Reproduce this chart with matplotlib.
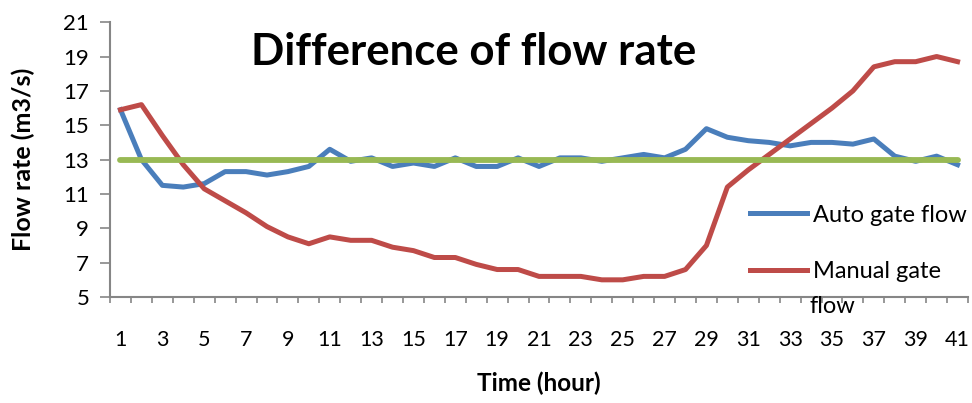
import numpy as np
import matplotlib.pyplot as plt

plt.rcParams['font.family'] = ['Lato', 'DejaVu Sans']

# == data ==
hours = list(range(1, 42))
autoFlow = [15.9, 13.0, 11.5, 11.4, 11.6, 12.3, 12.3, 12.1, 12.3, 12.6,
            13.6, 12.9, 13.1, 12.6, 12.8, 12.6, 13.1, 12.6, 12.6, 13.1,
            12.6, 13.1, 13.1, 12.9, 13.1, 13.3, 13.1, 13.6, 14.8, 14.3,
            14.1, 14.0, 13.8, 14.0, 14.0, 13.9, 14.2, 13.2, 12.9, 13.2, 12.7]
manualFlow = [15.9, 16.2, 14.4, 12.7, 11.3, 10.6, 9.9, 9.1, 8.5, 8.1,
              8.5, 8.3, 8.3, 7.9, 7.7, 7.3, 7.3, 6.9, 6.6, 6.6,
              6.2, 6.2, 6.2, 6.0, 6.0, 6.2, 6.2, 6.6, 8.0, 11.4,
              12.4, 13.3, 14.2, 15.1, 16.0, 17.0, 18.4, 18.7, 18.7, 19.0, 18.7]
targetFlow = [13.0] * len(hours)
yTicks = [5, 7, 9, 11, 13, 15, 17, 19, 21]
xTickLabels = hours[::2]
# ==========

fig = plt.figure(figsize=(9.72, 4.03), dpi=100)
ax = fig.add_axes([0.1132, 0.263, 0.8827, 0.682])

ax.plot(hours, autoFlow, color='#4a7ebb', lw=3.6, label='Auto gate flow', zorder=3)
ax.plot(hours, manualFlow, color='#be4b48', lw=3.6, label='Manual gate', zorder=3)
ax.plot(hours, targetFlow, color='#98b954', lw=4.2, solid_capstyle='round', zorder=4)

ax.set_xlim(0.5, 41.5)
ax.set_ylim(5, 21)
ax.set_yticks(yTicks)
ax.set_xticks(np.arange(0.5, 42, 1))
ax.set_xticklabels([])
ax.set_xticks(xTickLabels, minor=True)
ax.set_xticklabels([str(h) for h in xTickLabels], minor=True)
ax.tick_params(axis='x', which='major', length=4, color='#868686', width=1.2)
ax.tick_params(axis='x', which='minor', length=0, pad=24, labelsize=15.5)
ax.tick_params(axis='y', length=7, color='#868686', width=1.2, labelsize=16, pad=8)

for s in ['top', 'right']:
    ax.spines[s].set_visible(False)
for s in ['left', 'bottom']:
    ax.spines[s].set_color('#868686')
    ax.spines[s].set_linewidth(1.5)

ax.set_ylabel('Flow rate (m3/s)', fontsize=18, fontweight='bold', labelpad=20)
ax.set_xlabel('Time (hour)', fontsize=17.5, fontweight='bold', labelpad=15)

fig.text(0.487, 0.87, 'Difference of flow rate', fontsize=31.5, fontweight='bold',
         ha='center', va='center')

leg = ax.legend(loc='upper left', bbox_to_anchor=(0.735, 0.37), frameon=False,
                fontsize=17, handlelength=2.4, labelspacing=1.5, handletextpad=0.25,
                borderaxespad=0)
fig.text(0.833, 0.24, 'flow', fontsize=17, va='center')

fig.savefig('out.png', dpi=100)
